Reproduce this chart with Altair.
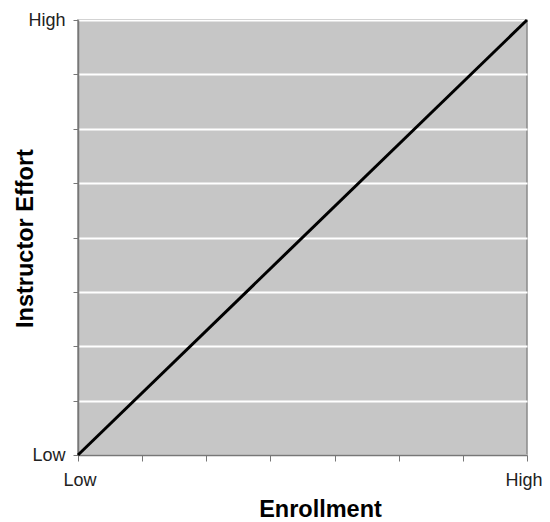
import altair as alt
import pandas as pd

# Data
enrollment = [0, 7]          # Low .. High on 7 tick intervals
effort = [0, 8]              # Low .. High on 8 tick intervals
x_ticks = [0, 1, 2, 3, 4, 5, 6, 7]
y_ticks = [0, 1, 2, 3, 4, 5, 6, 7, 8]
x_labels = {0: "Low", 7: "High"}
y_labels = {0: "Low", 8: "High"}

df = pd.DataFrame({"Enrollment": enrollment, "Effort": effort})

x_expr = "datum.value == 0 ? 'Low' : (datum.value == 7 ? 'High' : '')"
y_expr = "datum.value == 0 ? 'Low' : (datum.value == 8 ? 'High' : '')"

chart = alt.Chart(df).mark_line(color="black", strokeWidth=3).encode(
    x=alt.X("Enrollment:Q",
            scale=alt.Scale(domain=[0, 7], nice=False, zero=False),
            axis=alt.Axis(values=x_ticks, labelExpr=x_expr, grid=False,
                          title="Enrollment", titleFontSize=23.5, titleFontWeight="bold",
                          titleFont="Liberation Sans", titleColor="black",
                          titleX=242, titleY=61, titleBaseline="alphabetic",
                          labelFont="Liberation Sans", labelFontSize=18, labelColor="#222",
                          labelPadding=10, tickSize=6, tickColor="#777", domainColor="#777",
                          domainWidth=1.5, labelOverlap=False,
                          labelFlush=True, labelFlushOffset=15)),
    y=alt.Y("Effort:Q",
            scale=alt.Scale(domain=[0, 8], nice=False, zero=False),
            axis=alt.Axis(values=y_ticks, labelExpr=y_expr, grid=True, gridColor="white",
                          gridWidth=2, title="Instructor Effort", titleFontSize=23.5,
                          titleFontWeight="bold", titleFont="Liberation Sans", titleColor="black",
                          titleX=-46, titleY=218, titleAngle=270, titleBaseline="alphabetic",
                          labelFont="Liberation Sans", labelFontSize=18, labelColor="#222",
                          labelPadding=8, tickSize=5, tickColor="#777", domainColor="#777",
                          domainWidth=1.5, labelOverlap=False, labelFlush=False)),
).properties(
    width=449, height=435,
    autosize="none",
    padding={"left": 70, "top": 12, "right": 15, "bottom": 66},
).configure_view(
    fill="#c6c6c6", stroke="#8a8a8a", strokeWidth=1.5
)

chart.save("out.html", embed_options={"renderer": "svg", "actions": False})
